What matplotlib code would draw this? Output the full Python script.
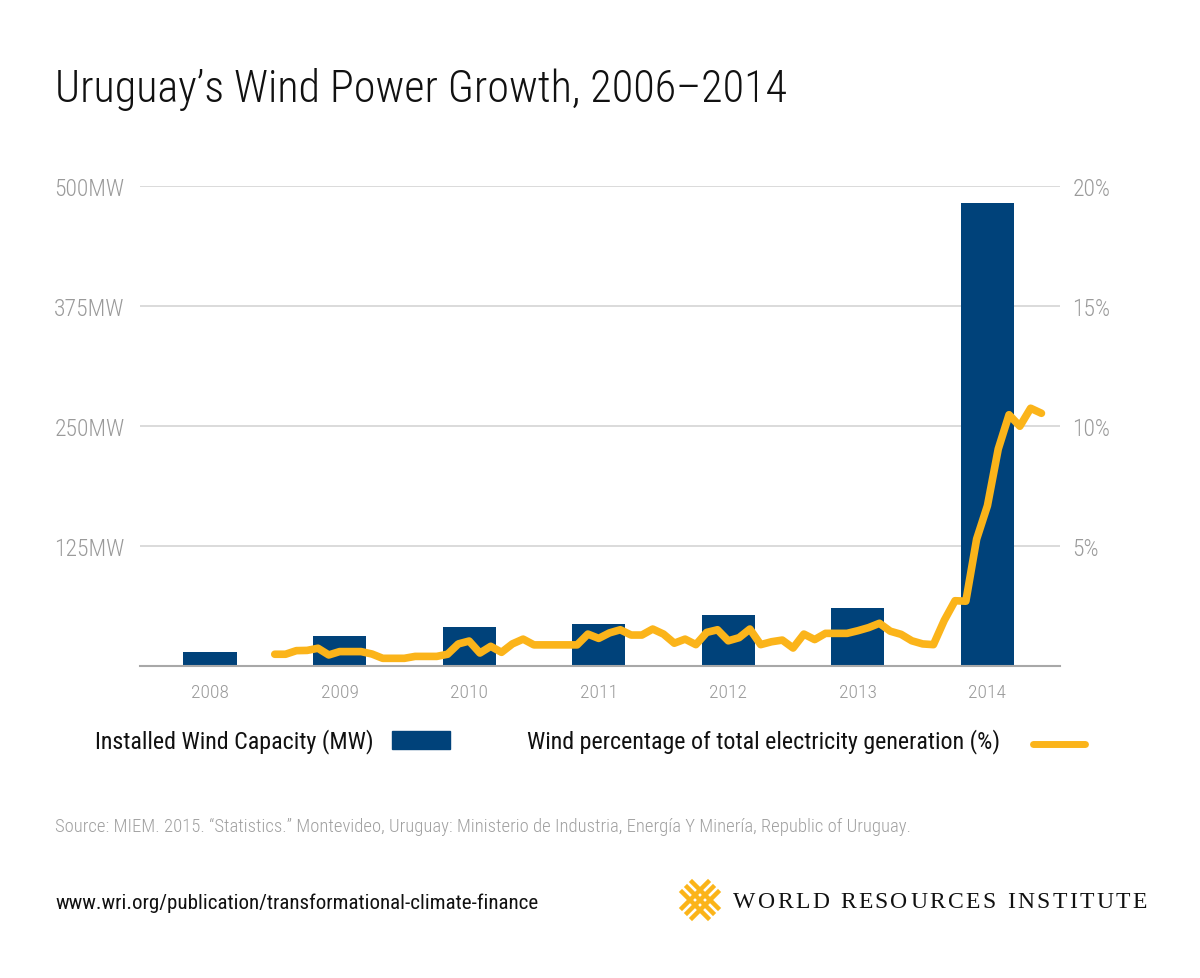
import numpy as np
from matplotlib import pyplot as plt
from matplotlib.patches import Rectangle
from matplotlib.lines import Line2D

FONT = ['Roboto Condensed', 'Liberation Sans', 'DejaVu Sans']
plt.rcParams['font.family'] = FONT

# Installed capacity per year (MW)
years = ['2008', '2009', '2010', '2011', '2012', '2013', '2014']
capacity_mw = [15, 31, 41, 44, 53, 60, 482]

# Monthly wind share of generation (%), Jan 2009 - Dec 2014
wind_pct = [
    0.49, 0.49, 0.64, 0.65, 0.74, 0.46, 0.60, 0.60, 0.60, 0.50, 0.32, 0.32,  # 2009
    0.32, 0.40, 0.40, 0.40, 0.49, 0.92, 1.04, 0.54, 0.82, 0.57, 0.92, 1.12,  # 2010
    0.88, 0.88, 0.88, 0.88, 0.88, 1.33, 1.15, 1.38, 1.51, 1.29, 1.29, 1.54,  # 2011
    1.33, 0.95, 1.12, 0.89, 1.40, 1.51, 1.05, 1.18, 1.54, 0.89, 1.01, 1.08,  # 2012
    0.75, 1.33, 1.10, 1.36, 1.36, 1.36, 1.47, 1.60, 1.78, 1.45, 1.32, 1.05,  # 2013
    0.92, 0.89, 1.90, 2.72, 2.70, 5.29, 6.68, 9.04, 10.47, 9.99, 10.74, 10.53,  # 2014
]

left_ticks = [125, 250, 375, 500]
left_labels = ['125MW', '250MW', '375MW', '500MW']
right_ticks = [5, 10, 15, 20]
right_labels = ['5%', '10%', '15%', '20%']

NAVY = '#00427a'
GOLD = '#fbb41a'
GREY = '#9a9a9a'

fig = plt.figure(figsize=(12, 9.79), dpi=100)
fig.patch.set_facecolor('white')

ax = fig.add_axes([140 / 1200, 1 - 667 / 979, 920 / 1200, 480 / 979])
x = np.arange(len(years))
ax.bar(x, capacity_mw, width=0.41, color=NAVY, zorder=2)
ax.set_xlim(-0.54, 6.56)
ax.set_ylim(0, 500)
ax.set_yticks(left_ticks)
ax.set_yticklabels(left_labels, fontweight=300)
ax.set_xticks(x)
ax.set_xticklabels(years, fontweight=300)
ax.grid(axis='y', color='#d4d4d4', linewidth=1.2, zorder=0)
ax.set_axisbelow(True)
for s in ['top', 'left', 'right']:
    ax.spines[s].set_visible(False)
ax.spines['bottom'].set_color('#a8a8a8')
ax.spines['bottom'].set_linewidth(1.5)
ax.tick_params(axis='y', length=0, pad=11, labelsize=17, labelcolor=GREY)
ax.tick_params(axis='x', length=0, pad=12, labelsize=14, labelcolor=GREY)

ax2 = ax.twinx()
months = np.arange(len(wind_pct))
line_x = 1 + (months - 6) / 12.0
ax2.plot(line_x, wind_pct, color=GOLD, linewidth=5.5, solid_capstyle='round',
         solid_joinstyle='round', zorder=3)
ax2.set_ylim(0, 20)
ax2.set_yticks(right_ticks)
ax2.set_yticklabels(right_labels, fontweight=300)
for s in ['top', 'left', 'right', 'bottom']:
    ax2.spines[s].set_visible(False)
ax2.tick_params(axis='y', length=0, pad=9, labelsize=17, labelcolor=GREY)

# Title
fig.text(55 / 1200, 1 - 90 / 979, 'Uruguay\u2019s Wind Power Growth, 2006\u20132014',
         fontsize=31.8, fontweight=300, color='#111111', va='center', ha='left')

# Legend
fig.text(95 / 1200, 1 - 742 / 979, 'Installed Wind Capacity (MW)', fontsize=17.3,
         color='#111111', va='center', ha='left')
fig.patches.append(Rectangle((392 / 1200, 1 - 750 / 979), 58 / 1200, 18 / 979,
                             transform=fig.transFigure, color=NAVY))
fig.text(527 / 1200, 1 - 742 / 979, 'Wind percentage of total electricity generation (%)',
         fontsize=17.3, color='#111111', va='center', ha='left')
fig.lines.append(Line2D([1033 / 1200, 1085 / 1200], [1 - 745 / 979, 1 - 745 / 979],
                        transform=fig.transFigure, color=GOLD, linewidth=5,
                        solid_capstyle='round'))

# Source and footer
fig.text(55 / 1200, 1 - 827 / 979,
         'Source: MIEM. 2015. \u201cStatistics.\u201d Montevideo, Uruguay: Ministerio de Industria, '
         'Energ\u00eda Y Miner\u00eda, Republic of Uruguay.',
         fontsize=13.4, fontweight=300, color='#a0a0a0', va='center', ha='left')
fig.text(55 / 1200, 1 - 903 / 979, 'www.wri.org/publication/transformational-climate-finance',
         fontsize=15.1, color='#111111', va='center', ha='left')

# Logo mark: woven diamond lattice
cx, cy = 700, 901
for a in (-1, 0, 1):
    d = a * 10
    p1 = [(cx - 13 + d * 0.5, cy - 13 - d * 0.5), (cx + 13 + d * 0.5, cy + 13 - d * 0.5)]
    p2 = [(cx - 13 + d * 0.5, cy + 13 + d * 0.5), (cx + 13 + d * 0.5, cy - 13 + d * 0.5)]
    for p in (p1, p2):
        fig.lines.append(Line2D([p[0][0] / 1200, p[1][0] / 1200],
                                [1 - p[0][1] / 979, 1 - p[1][1] / 979],
                                transform=fig.transFigure, color=GOLD, linewidth=3.2))

# Logo wordmark with letter spacing
word = 'WORLD RESOURCES INSTITUTE'
renderer = fig.canvas.get_renderer()
xpos = 733
for ch in word:
    t = fig.text(xpos / 1200, 1 - 903 / 979, ch, fontsize=17,
                 family=['Liberation Serif', 'DejaVu Serif'], color='#111111',
                 va='center', ha='left')
    w = t.get_window_extent(renderer).width if ch != ' ' else 6
    xpos += w + 2.4

fig.savefig('out.png', dpi=100, facecolor='white')
